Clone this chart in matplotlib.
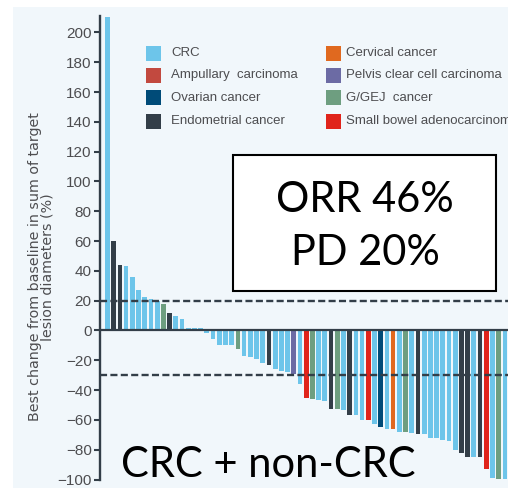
import numpy as np
import matplotlib
matplotlib.use('Agg')
import matplotlib.pyplot as plt
from matplotlib.patches import Rectangle

# Best change from baseline per patient, ordered waterfall
change = [210, 60, 44, 43, 36, 27, 22.5, 21, 20, 18, 12, 9.5, 8, 1.5, 1.5, 1.5,
          -2, -6, -9.5, -9.5, -9.5, -12.5, -17, -18, -19, -22, -23, -26, -27, -28,
          -29.5, -36, -45, -46, -46.5, -47, -52.5, -53, -53.5, -56.5, -56.5, -60,
          -60, -63, -64.5, -66, -66, -68, -68, -68.5, -69.5, -69.5, -72, -72,
          -73.5, -74.5, -80, -82.5, -85, -85, -85, -93, -99, -99.5, -99.5]

# Tumour type of each patient
tumour = ['CRC', 'Endo', 'Endo', 'CRC', 'CRC', 'CRC', 'CRC', 'CRC', 'CRC', 'GEJ',
          'Endo', 'CRC', 'CRC', 'CRC', 'CRC', 'CRC', 'CRC', 'CRC', 'CRC', 'CRC',
          'CRC', 'GEJ', 'CRC', 'CRC', 'CRC', 'CRC', 'Endo', 'CRC', 'CRC', 'CRC',
          'Pelvis', 'CRC', 'SB', 'GEJ', 'CRC', 'CRC', 'Endo', 'GEJ', 'CRC', 'Endo',
          'CRC', 'CRC', 'SB', 'CRC', 'Ovar', 'CRC', 'Cerv', 'CRC', 'GEJ', 'CRC',
          'Endo', 'CRC', 'CRC', 'CRC', 'CRC', 'CRC', 'CRC', 'Endo', 'Endo', 'CRC',
          'Endo', 'SB', 'CRC', 'GEJ', 'CRC']

legend_left = [('CRC', 'CRC'), ('Amp', 'Ampullary  carcinoma'),
               ('Ovar', 'Ovarian cancer'), ('Endo', 'Endometrial cancer')]
legend_right = [('Cerv', 'Cervical cancer'), ('Pelvis', 'Pelvis clear cell carcinoma'),
                ('GEJ', 'G/GEJ  cancer'), ('SB', 'Small bowel adenocarcinoma')]

colors = {'CRC': '#6DC5EA', 'Amp': '#C2493F', 'Ovar': '#004B78', 'Endo': '#333E48',
          'Cerv': '#E0691F', 'Pelvis': '#6C6BA4', 'GEJ': '#6E9E80', 'SB': '#E0241B'}

W, H = 508, 488
dark = '#333E48'
grey = '#4D4D50'
plt.rcParams['font.family'] = ['Liberation Sans', 'DejaVu Sans']

fig = plt.figure(figsize=(W / 100, H / 100), dpi=100, facecolor='white')


def fx(x):
    return x / W


def fy(y):
    return 1 - y / H


# pale panel behind the chart
fig.patches.append(Rectangle((fx(13), 0), 1 - fx(13), fy(7), transform=fig.transFigure,
                             facecolor='#F1F7FB', edgecolor='none', zorder=-5))

ax = fig.add_axes([fx(100), fy(479.5), 1 - fx(100), fy(16) - fy(479.5)])
ax.set_facecolor('none')

x = np.arange(len(change))
ax.bar(x, change, width=0.76, color=[colors[t] for t in tumour], zorder=2)
ax.set_xlim(-1.21, 64.5)
ax.set_ylim(-100, 211)

ax.axhline(0, color=dark, lw=1.6, zorder=3)
for lvl in (20, -30):
    ax.axhline(lvl, color=dark, lw=1.7, ls=(0, (3, 1.4)), zorder=4)

for s in ('top', 'right', 'bottom'):
    ax.spines[s].set_visible(False)
ax.spines['left'].set_color(dark)
ax.spines['left'].set_linewidth(1.7)
ax.set_xticks([])
ax.set_yticks(np.arange(-100, 201, 20))
ax.tick_params(axis='y', length=4, width=1.5, color=dark, labelcolor=grey,
               labelsize=11, pad=2)

fig.text(fx(41), fy(267), 'Best change from baseline in sum of target\nlesion diameters (%)',
         rotation=90, ha='center', va='center', fontsize=10.3, color=grey,
         linespacing=0.85, family=['DejaVu Sans'])

# legend, two columns
for col, (px, tx) in enumerate([(146, 171), (326, 346)]):
    items = legend_left if col == 0 else legend_right
    for (key, label), cy in zip(items, [53.5, 75, 97.5, 121]):
        fig.patches.append(Rectangle((fx(px), fy(cy + 7.5)), fx(15), 15 / H,
                                     transform=fig.transFigure, facecolor=colors[key],
                                     edgecolor='none', zorder=5))
        fig.text(fx(tx), fy(cy), label, ha='left', va='center', fontsize=9.5, color=grey)

# response summary box
fig.patches.append(Rectangle((fx(233), fy(291)), fx(496 - 233), (291 - 155) / H,
                             transform=fig.transFigure, facecolor='white',
                             edgecolor='black', lw=1.5, zorder=6))
big = dict(fontsize=30, color='black', family=['Lato', 'DejaVu Sans'], zorder=7)
fig.text(fx(364.5), fy(211.7), 'ORR 46%', ha='center', va='baseline', **big)
fig.text(fx(365), fy(265), 'PD 20%', ha='center', va='baseline', **big)
fig.text(fx(121), fy(477), 'CRC + non-CRC', ha='left', va='baseline', **big)

fig.savefig('out.png', dpi=100, facecolor='white')
